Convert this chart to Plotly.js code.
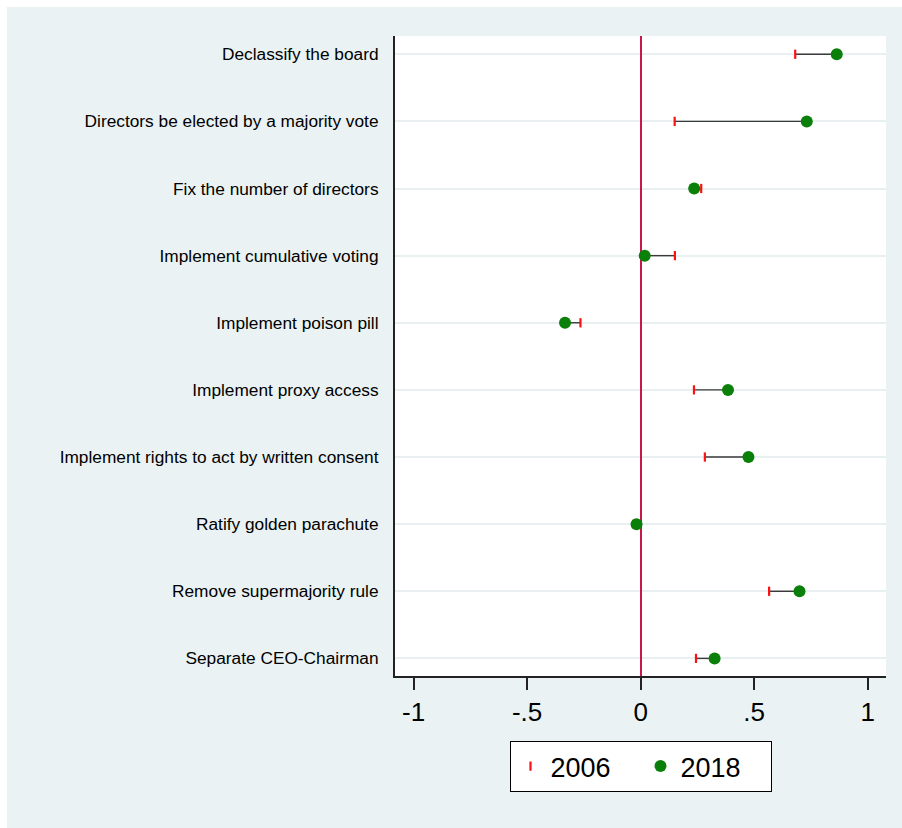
<!DOCTYPE html>
<html>
<head>
<meta charset="utf-8">
<script src="https://cdn.plot.ly/plotly-3.0.1.min.js"></script>
<style>
  html, body { margin: 0; padding: 0; background: #ffffff; }
  #chart { position: absolute; left: 7px; top: 7px; width: 895px; height: 821px; }
</style>
</head>
<body>
<div id="chart"></div>
<script>
// Shareholder proposal types, top to bottom
const proposals = [
  "Declassify the board",
  "Directors be elected by a majority vote",
  "Fix the number of directors",
  "Implement cumulative voting",
  "Implement poison pill",
  "Implement proxy access",
  "Implement rights to act by written consent",
  "Ratify golden parachute",
  "Remove supermajority rule",
  "Separate CEO-Chairman"
];

// Estimated effect in each year
const values2006 = [0.681, 0.150, 0.267, 0.151, -0.265, 0.235, 0.283, -0.030, 0.566, 0.244];
const values2018 = [0.864, 0.732, 0.236, 0.018, -0.333, 0.385, 0.475, -0.018, 0.700, 0.326];

// X-axis ticks
const xTickVals = [-1, -0.5, 0, 0.5, 1];
const xTickText = ["-1", "-.5", "0", ".5", "1"];

// Connector segments between the two years (null breaks the line)
const segX = [], segY = [];
proposals.forEach((p, i) => {
  segX.push(values2006[i], values2018[i], null);
  segY.push(p, p, null);
});

const font = "Arial, 'Liberation Sans', sans-serif";

const traces = [
  {
    type: "scatter", mode: "lines",
    x: segX, y: segY,
    line: { color: "#3a3a3a", width: 1.4 },
    showlegend: false, hoverinfo: "skip"
  },
  {
    type: "scatter", mode: "markers", name: "2006",
    x: values2006, y: proposals,
    marker: { symbol: "line-ns", size: 6.6, color: "#ff1010",
              line: { color: "#ff1010", width: 2.2 } }
  },
  {
    type: "scatter", mode: "markers", name: "2018",
    x: values2018, y: proposals,
    marker: { symbol: "circle", size: 12, color: "#0a7f0a",
              line: { width: 0 } }
  }
];

const layout = {
  width: 895, height: 821,
  paper_bgcolor: "#eaf2f3",
  plot_bgcolor: "#ffffff",
  margin: { l: 388, r: 16, t: 29, b: 152 },
  font: { family: font, color: "#000000" },
  xaxis: {
    range: [-1.082, 1.081],
    tickvals: xTickVals, ticktext: xTickText,
    tickfont: { size: 26, family: font, color: "#000000" },
    ticks: "outside", ticklen: 12, tickwidth: 2, tickcolor: "#222222",
    showline: true, linecolor: "#222222", linewidth: 2,
    showgrid: false,
    zeroline: true, zerolinecolor: "#c8184a", zerolinewidth: 2.2,
    ticklabelstandoff: 0
  },
  yaxis: {
    type: "category",
    categoryorder: "array", categoryarray: proposals,
    range: [9.262, -0.272],
    tickfont: { size: 17.3, family: font, color: "#000000" },
    ticks: "",
    ticklabelstandoff: 11,
    showline: true, linecolor: "#222222", linewidth: 2,
    showgrid: true, gridcolor: "#e8f0f2", gridwidth: 2,
    zeroline: false
  },
  showlegend: true,
  legend: {
    orientation: "h",
    x: 0.5, xanchor: "center",
    y: -0.1016, yanchor: "top",
    bgcolor: "#ffffff",
    bordercolor: "#000000", borderwidth: 1,
    font: { size: 27, family: font, color: "#000000" },
    entrywidth: 85, entrywidthmode: "pixels",
    traceorder: "normal"
  }
};

Plotly.newPlot("chart", traces, layout, { displayModeBar: false, staticPlot: true });
</script>
</body>
</html>
